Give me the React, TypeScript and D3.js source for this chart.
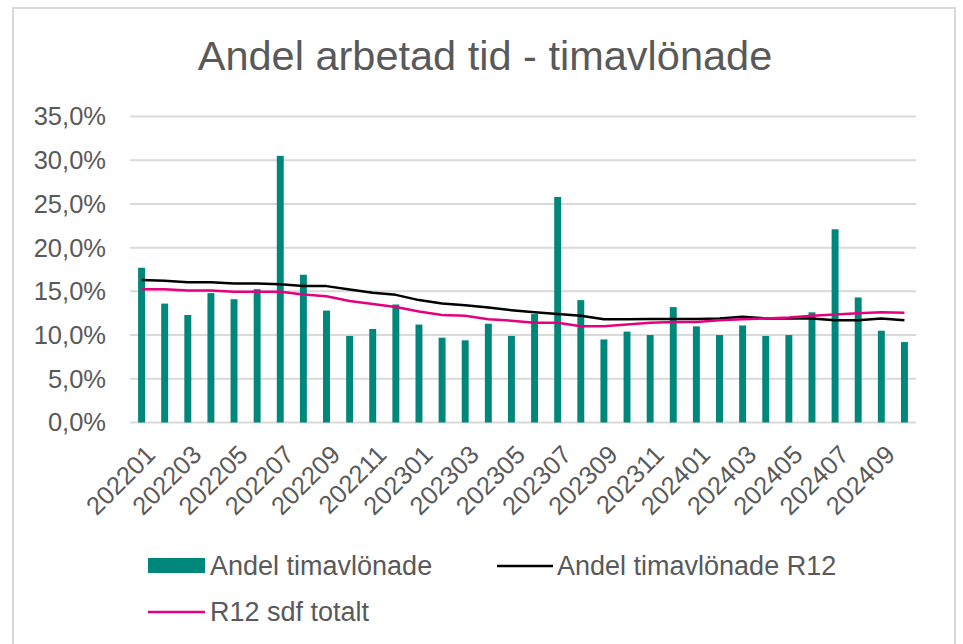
// App.tsx
import { useEffect, useRef } from 'react';
import * as d3 from 'd3';

const months = [
  '202201', '202202', '202203', '202204', '202205', '202206', '202207', '202208', '202209', '202210', '202211', '202212',
  '202301', '202302', '202303', '202304', '202305', '202306', '202307', '202308', '202309', '202310', '202311', '202312',
  '202401', '202402', '202403', '202404', '202405', '202406', '202407', '202408', '202409', '202410',
];

// Andel timavlönade (%)
const andelTim = [
  17.7, 13.6, 12.3, 14.8, 14.1, 15.25, 30.5, 16.9, 12.8, 9.9, 10.7, 13.5,
  11.2, 9.7, 9.4, 11.3, 9.9, 12.4, 25.8, 14.0, 9.5, 10.4, 10.0, 13.2,
  11.0, 10.0, 11.1, 9.9, 10.0, 12.6, 22.1, 14.3, 10.5, 9.2,
];

// Andel timavlönade R12 (%)
const andelTimR12 = [
  16.3, 16.2, 16.05, 16.05, 15.9, 15.9, 15.8, 15.6, 15.6, 15.2, 14.85, 14.6,
  14.0, 13.6, 13.4, 13.15, 12.85, 12.6, 12.4, 12.2, 11.8, 11.8, 11.85, 11.85,
  11.85, 11.9, 12.1, 11.9, 11.9, 11.9, 11.7, 11.7, 11.9, 11.7,
];

// R12 sdf totalt (%)
const sdfTotalt = [
  15.25, 15.25, 15.1, 15.1, 14.95, 14.95, 14.95, 14.65, 14.45, 13.9, 13.55, 13.2,
  12.7, 12.3, 12.2, 11.8, 11.65, 11.4, 11.4, 11.0, 11.0, 11.2, 11.4, 11.5,
  11.5, 11.7, 11.8, 11.9, 12.0, 12.2, 12.35, 12.5, 12.6, 12.55,
];

const yTicks = [0, 5, 10, 15, 20, 25, 30, 35];
const xTickLabels = months.filter((_, i) => i % 2 === 0);

const seriesNames = ['Andel timavlönade', 'Andel timavlönade R12', 'R12 sdf totalt'];

const FONT = "'Liberation Sans', Arial, sans-serif";
const TEXT = '#595959';
const TEAL = '#00877b';
const PINK = '#e6007e';

const App = () => {
  const ref = useRef<SVGSVGElement>(null);

  useEffect(() => {
    const svg = d3.select(ref.current);
    svg.selectAll('*').remove();

    const width = 963;
    const height = 644;
    const plot = { left: 130, right: 916, top: 116.5, bottom: 422.5 };

    svg.attr('width', width).attr('height', height);

    svg.append('rect')
      .attr('width', width).attr('height', height).attr('fill', '#fff');

    // chart border
    svg.append('rect')
      .attr('x', 13).attr('y', 8)
      .attr('width', 942).attr('height', 700)
      .attr('fill', 'none')
      .attr('stroke', '#d9d9d9')
      .attr('stroke-width', 2);

    svg.append('text')
      .attr('x', 485).attr('y', 55)
      .attr('dy', '0.35em')
      .attr('text-anchor', 'middle')
      .attr('font-family', FONT)
      .attr('font-size', 41.5)
      .attr('fill', TEXT)
      .text('Andel arbetad tid - timavlönade');

    const x = d3.scaleBand()
      .domain(months)
      .range([plot.left, plot.right])
      .paddingInner(0.7)
      .paddingOuter(0.35);

    const y = d3.scaleLinear()
      .domain([0, 35])
      .range([plot.bottom, plot.top]);

    const fmt = (v: number) => v.toFixed(1).replace('.', ',') + '%';

    // grid
    svg.append('g')
      .selectAll('line')
      .data(yTicks)
      .enter()
      .append('line')
      .attr('x1', plot.left).attr('x2', plot.right)
      .attr('y1', (d) => y(d)).attr('y2', (d) => y(d))
      .attr('stroke', '#d9d9d9')
      .attr('stroke-width', 2);

    // y labels
    svg.append('g')
      .selectAll('text')
      .data(yTicks)
      .enter()
      .append('text')
      .attr('x', 106)
      .attr('y', (d) => y(d))
      .attr('dy', '0.35em')
      .attr('text-anchor', 'end')
      .attr('font-family', FONT)
      .attr('font-size', 25.5)
      .attr('fill', TEXT)
      .text((d) => fmt(d));

    // bars
    svg.append('g')
      .selectAll('rect')
      .data(andelTim)
      .enter()
      .append('rect')
      .attr('x', (_, i) => x(months[i]) || 0)
      .attr('y', (d) => y(d))
      .attr('width', x.bandwidth())
      .attr('height', (d) => y(0) - y(d))
      .attr('fill', TEAL);

    const cx = (i: number) => (x(months[i]) || 0) + x.bandwidth() / 2;
    const line = d3.line<number>()
      .x((_, i) => cx(i))
      .y((d) => y(d));

    svg.append('path')
      .datum(andelTimR12)
      .attr('d', line)
      .attr('fill', 'none')
      .attr('stroke', '#000')
      .attr('stroke-width', 2.5)
      .attr('stroke-linejoin', 'round');

    svg.append('path')
      .datum(sdfTotalt)
      .attr('d', line)
      .attr('fill', 'none')
      .attr('stroke', PINK)
      .attr('stroke-width', 2.5)
      .attr('stroke-linejoin', 'round');

    // x labels
    svg.append('g')
      .selectAll('text')
      .data(xTickLabels)
      .enter()
      .append('text')
      .attr('transform', (d) => {
        const c = (x(d) || 0) + x.bandwidth() / 2;
        return 'translate(' + (c + 9) + ',' + 450 + ') rotate(-45)';
      })
      .attr('dy', '0.35em')
      .attr('text-anchor', 'end')
      .attr('font-family', FONT)
      .attr('font-size', 25.5)
      .attr('fill', TEXT)
      .text((d) => d);

    // legend
    const lg = svg.append('g').attr('font-family', FONT).attr('font-size', 27).attr('fill', TEXT);
    lg.append('rect')
      .attr('x', 148).attr('y', 558).attr('width', 57).attr('height', 15)
      .attr('fill', TEAL);
    lg.append('text').attr('x', 210).attr('y', 566).attr('dy', '0.35em').text(seriesNames[0]);

    lg.append('line')
      .attr('x1', 497).attr('x2', 553).attr('y1', 566).attr('y2', 566)
      .attr('stroke', '#000').attr('stroke-width', 2.5);
    lg.append('text').attr('x', 557).attr('y', 566).attr('dy', '0.35em').text(seriesNames[1]);

    lg.append('line')
      .attr('x1', 148).attr('x2', 205).attr('y1', 612).attr('y2', 612)
      .attr('stroke', PINK).attr('stroke-width', 2.5);
    lg.append('text').attr('x', 210).attr('y', 612).attr('dy', '0.35em').text(seriesNames[2]);
  }, []);

  return (
    <div style={{ position: 'absolute', left: 0, top: 0 }}>
      <svg ref={ref} style={{ display: 'block' }}></svg>
    </div>
  );
};

export default App;
